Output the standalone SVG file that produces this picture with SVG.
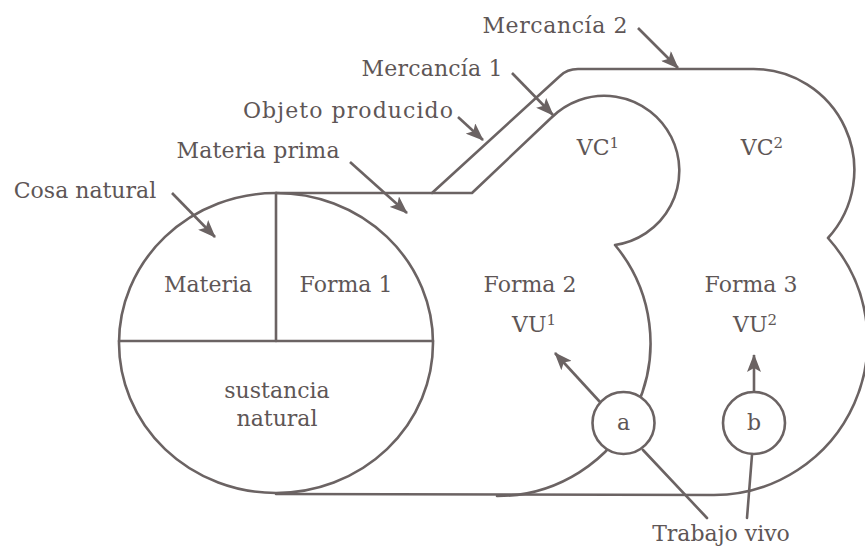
<svg xmlns="http://www.w3.org/2000/svg" width="865" height="548" viewBox="0 0 865 548">
<style>
.ln{fill:none;stroke:#6b6363;stroke-width:2.6;stroke-linejoin:round;stroke-linecap:round}
.nd{fill:#fff;stroke:#6b6363;stroke-width:2.6}
.t{font-family:"DejaVu Serif","Liberation Serif",serif;font-size:22px;fill:#5e5656;text-anchor:middle}
.sup{font-size:15px}
.ar{fill:none;stroke:#6b6363;stroke-width:2.6;marker-end:url(#ah)}
</style>
<defs>
<marker id="ah" markerUnits="userSpaceOnUse" markerWidth="20" markerHeight="14" refX="17" refY="7" orient="auto">
<path d="M0,0 L18,7 L0,14 L4,7 z" fill="#6b6363"/>
</marker>
</defs>
<rect width="865" height="548" fill="#fff"/>
<g id="shape">
<path id="outer" class="ln" d="M276,193 L432,193 L560,76 Q567,69 578,69 L751,69 A101,101 0 0 1 828,238 A154,154 0 0 1 714,495 L276,494"/>
<path id="inner" class="ln" d="M432,193 L472,193 L551,118 A75,75 0 1 1 615,245 A153,153 0 0 1 497,496"/>
<ellipse id="cosa" class="ln" cx="276" cy="343" rx="157" ry="150"/>
<line class="ln" x1="119" y1="341" x2="433" y2="341"/>
<line class="ln" x1="276" y1="193" x2="276" y2="341"/>
</g>
<g id="connectors">
<line class="ar" x1="172" y1="193" x2="215" y2="237"/>
<line class="ar" x1="350" y1="162" x2="407" y2="213"/>
<line class="ar" x1="458" y1="117" x2="483" y2="140"/>
<line class="ar" x1="512" y1="73" x2="553" y2="115"/>
<line class="ar" x1="638" y1="28" x2="678" y2="68"/>
<line class="ar" x1="600" y1="402" x2="555" y2="353"/>
<line class="ar" x1="754" y1="393" x2="754" y2="355"/>
<line class="ln" x1="643" y1="450" x2="707" y2="518"/>
<line class="ln" x1="752" y1="455" x2="747" y2="518"/>
</g>
<g id="node-a">
<circle class="nd" cx="623.5" cy="423" r="31"/>
<text class="t" x="623.5" y="430">a</text>
</g>
<g id="node-b">
<circle class="nd" cx="754" cy="423" r="31"/>
<text class="t" x="754" y="430">b</text>
</g>
<g id="labels">
<text class="t" x="555" y="33" textLength="145">Mercancía 2</text>
<text class="t" x="432" y="76" textLength="141">Mercancía 1</text>
<text class="t" x="348" y="118" textLength="210">Objeto producido</text>
<text class="t" x="258" y="158" textLength="163">Materia prima</text>
<text class="t" x="85" y="198">Cosa natural</text>
<text class="t" x="208" y="292">Materia</text>
<text class="t" x="346" y="292">Forma 1</text>
<text class="t" x="277" y="398">sustancia</text>
<text class="t" x="277" y="426">natural</text>
<text class="t" x="530" y="292">Forma 2</text>
<text class="t" x="534" y="332">VU<tspan class="sup" dy="-7">1</tspan></text>
<text class="t" x="751" y="292">Forma 3</text>
<text class="t" x="755" y="332">VU<tspan class="sup" dy="-7">2</tspan></text>
<text class="t" x="598" y="155">VC<tspan class="sup" dy="-7">1</tspan></text>
<text class="t" x="762" y="155">VC<tspan class="sup" dy="-7">2</tspan></text>
<text class="t" x="721" y="541">Trabajo vivo</text>
</g>
</svg>
